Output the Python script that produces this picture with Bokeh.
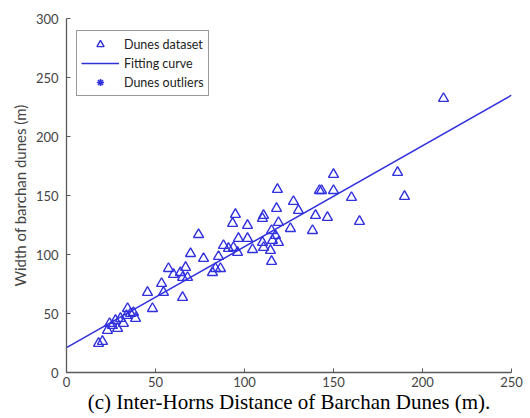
from bokeh.plotting import figure
from bokeh.models import Legend, LegendItem, FixedTicker, ColumnDataSource, Range1d
from bokeh.embed import file_html
from bokeh.resources import INLINE

# Inter-horns distance (m) and width (m) of barchan dunes
dunes_x = [18.0, 20.2, 23.0, 24.2, 25.8, 27.5, 28.7, 30.3, 32.0, 33.7, 34.3, 36.0, 37.6, 38.8,
           45.5, 48.3, 53.4, 54.5, 57.3, 60.1, 64.0, 65.2, 66.9, 68.0, 65.2, 69.7, 74.2, 77.0,
           82.0, 83.7, 86.5, 85.4, 88.2, 91.0, 93.8, 96.1, 94.9, 93.3, 96.6, 101.7, 101.7, 104.5,
           110.1, 110.7, 110.7, 110.1, 114.6, 115.2, 115.2, 117.4, 115.7, 119.1, 118.0, 118.5,
           119.1, 125.8, 127.5, 130.3, 138.2, 139.9, 142.1, 143.3, 146.6, 150.0, 150.0, 160.1,
           164.6, 186.0, 189.9, 211.8]
dunes_y = [24.6, 26.3, 35.6, 41.5, 39.8, 44.1, 37.3, 45.8, 41.5, 48.3, 54.2, 50.0, 50.8, 45.8,
           67.8, 54.2, 75.4, 67.8, 88.1, 83.1, 84.7, 80.5, 89.0, 80.5, 63.6, 100.8, 116.9, 96.6,
           84.7, 88.1, 88.1, 98.3, 107.6, 105.1, 105.9, 101.7, 133.9, 126.3, 113.6, 124.6, 113.6, 104.2,
           110.2, 105.9, 133.1, 130.5, 103.4, 94.1, 120.3, 116.1, 111.9, 110.2, 139.0, 155.1,
           127.1, 122.0, 144.9, 137.3, 120.3, 133.1, 154.2, 154.2, 131.4, 167.8, 154.2, 148.3,
           128.0, 169.5, 149.2, 232.2]

# Fitting curve end points
fit_x = [0, 250]
fit_y = [21, 235]

# Outliers: none visible in the chart (placeholder so the legend entry is drawn)
outlier_x = [float("nan")]
outlier_y = [float("nan")]

x_ticks = [0, 50, 100, 150, 200, 250]
y_ticks = [0, 50, 100, 150, 200, 250, 300]

BLUE = "#3030dd"
AXIS = "#5a5a5a"
TICKTXT = "#444444"

p = figure(frame_width=445, frame_height=354, output_backend="svg", toolbar_location=None,
           x_range=Range1d(0, 250), y_range=Range1d(0, 300),
           min_border_left=66, min_border_right=19, min_border_top=18, min_border_bottom=46)
p.outline_line_color = None
p.xgrid.visible = False
p.ygrid.visible = False
p.background_fill_color = "white"
p.border_fill_color = "white"

src = ColumnDataSource(dict(x=dunes_x, y=dunes_y))
r_d = p.scatter("x", "y", source=src, marker="triangle", size=10, fill_color=None,
                line_color=BLUE, line_width=1.4)
r_f = p.line(fit_x, fit_y, line_color=BLUE, line_width=1.5)
r_o = p.scatter(outlier_x, outlier_y, marker="asterisk", size=7, line_color=BLUE, line_width=1.6)

for ax in (p.xaxis[0], p.yaxis[0]):
    ax.axis_line_color = AXIS
    ax.axis_line_width = 1.3
    ax.major_tick_line_color = AXIS
    ax.major_tick_in = 4
    ax.major_tick_out = 0
    ax.minor_tick_line_color = None
    ax.major_label_text_color = TICKTXT
    ax.major_label_text_font = "Lato"
    ax.major_label_text_font_size = "13px"

p.xaxis.ticker = FixedTicker(ticks=x_ticks)
p.yaxis.ticker = FixedTicker(ticks=y_ticks)
p.xaxis.major_label_standoff = 4
p.yaxis.major_label_standoff = 8

p.yaxis.axis_label = "Width of barchan dunes (m)"
p.yaxis.axis_label_text_font = "Lato"
p.yaxis.axis_label_text_font_style = "normal"
p.yaxis.axis_label_text_font_size = "15px"
p.yaxis.axis_label_text_color = TICKTXT
p.yaxis.axis_label_standoff = 4

p.xaxis.axis_label = "(c) Inter-Horns Distance of Barchan Dunes (m)."
p.xaxis.axis_label_text_font = "Liberation Serif"
p.xaxis.axis_label_text_font_style = "normal"
p.xaxis.axis_label_text_font_size = "21px"
p.xaxis.axis_label_text_color = "black"
p.xaxis.axis_label_standoff = 0

legend = Legend(items=[
    LegendItem(label="Dunes dataset", renderers=[r_d]),
    LegendItem(label="Fitting curve", renderers=[r_f]),
    LegendItem(label="Dunes outliers", renderers=[r_o]),
], location=(10, 276))
legend.border_line_color = "#333333"
legend.border_line_width = 1.2
legend.background_fill_color = "white"
legend.background_fill_alpha = 1.0
legend.label_text_font = "Lato"
legend.label_text_font_size = "12.5px"
legend.label_text_color = "#222222"
legend.glyph_width = 38
legend.glyph_height = 18
legend.label_height = 18
legend.label_standoff = 5
legend.spacing = 1
legend.padding = 4
legend.margin = 0
p.add_layout(legend, "center")

open("out.html", "w").write(file_html(p, INLINE))
